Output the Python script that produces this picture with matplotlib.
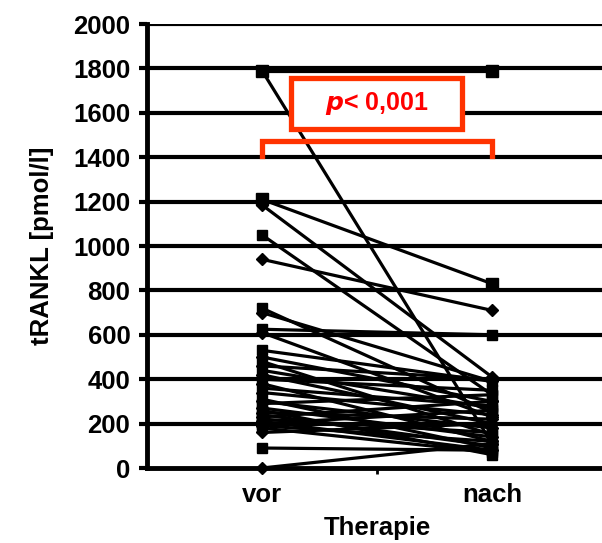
import matplotlib
matplotlib.use("Agg")
import matplotlib.pyplot as plt
from matplotlib.patches import Rectangle

categories = ["vor", "nach"]
vor_values = [1790, 1790, 1210, 1185, 1050, 940, 720, 700, 625, 610, 530, 500, 480,
              460, 440, 420, 400, 380, 360, 340, 310, 300, 290, 270, 260, 250, 240,
              230, 220, 210, 200, 190, 180, 160, 90, 0]
nach_values = [1790, 110, 830, 410, 330, 710, 250, 390, 600, 230, 390, 300, 150,
               400, 270, 200, 350, 120, 280, 240, 90, 180, 330, 140, 60, 220, 100,
               300, 160, 80, 260, 120, 70, 200, 80, 110]
markers = ["s", "D"]
y_ticks = list(range(0, 2001, 200))
p_text = "< 0,001"

plt.rcParams['font.family'] = ['Liberation Sans', 'DejaVu Sans']
plt.rcParams['font.weight'] = 'bold'

fig = plt.figure(figsize=(6.02, 5.43), dpi=100)
ax = fig.add_axes([147/602, 75/543, 460/602, 444/543])

ax.set_ylim(0, 2000)
ax.set_xlim(-0.5, 1.5)

for yv in y_ticks[1:]:
    ax.axhline(yv, color="black", lw=3.0, zorder=1)

for i, (a, b) in enumerate(zip(vor_values, nach_values)):
    m = markers[i % 2]
    big = (a in (1790, 1210)) or (b in (1790, 830, 410))
    ax.plot([0, 1], [a, b], color="black", lw=2.3, marker=m,
            markersize=(9 if big else 7) if m == "s" else 6.5, zorder=3, clip_on=False)

# significance bracket and box
ax.plot([0, 0, 1, 1], [1405, 1475, 1475, 1405], color="#FF3300", lw=3.8,
        solid_joinstyle="miter", zorder=5)
ax.add_patch(Rectangle((0.127, 1525), 0.743, 232, facecolor="white",
                       edgecolor="#FF3300", lw=3.8, zorder=6))
ax.text(0.5, 1640, r"$\mathbf{\mathit{p}}$" + p_text, color="#FF0000",
        fontsize=18, fontweight="bold", ha="center", va="center", zorder=7)

ax.set_yticks(y_ticks)
ax.set_yticklabels([str(t) for t in y_ticks], fontsize=18.5, fontweight="bold")
ax.set_xticks([0, 1])
ax.set_xticklabels(categories, fontsize=18.5, fontweight="bold")
ax.set_xticks([0.5], minor=True)
ax.tick_params(axis="x", which="major", length=0, pad=11)
ax.tick_params(axis="x", which="minor", length=4, width=2)
ax.tick_params(axis="y", which="major", length=6, width=3, pad=6)

for s in ["top", "right"]:
    ax.spines[s].set_visible(False)
ax.spines["left"].set_linewidth(3.5)
ax.spines["bottom"].set_linewidth(3.5)

ax.set_xlabel("Therapie", fontsize=18.5, fontweight="bold", labelpad=6)
ax.set_ylabel("tRANKL [pmol/l]", fontsize=18.5, fontweight="bold", labelpad=14)

fig.savefig("out.png", dpi=100)
